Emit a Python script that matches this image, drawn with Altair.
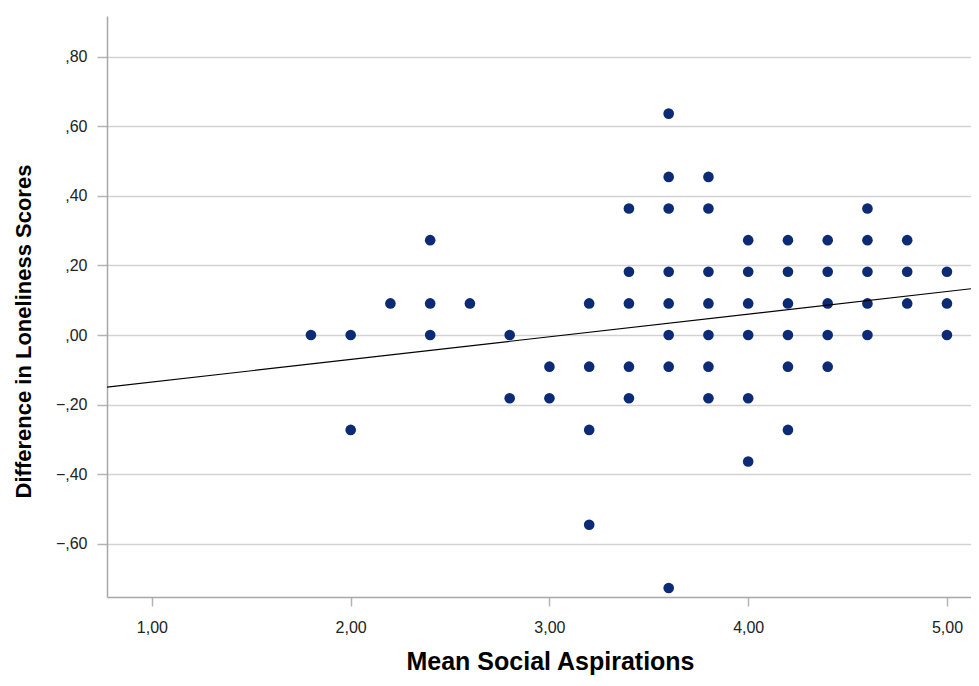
import altair as alt
import pandas as pd

# Scatter points: Mean Social Aspirations (x) vs Difference in Loneliness Scores (y)
x_vals = [
    1.8,
    2.0, 2.0,
    2.2,
    2.4, 2.4, 2.4,
    2.6,
    2.8, 2.8,
    3.0, 3.0,
    3.2, 3.2, 3.2, 3.2,
    3.4, 3.4, 3.4, 3.4, 3.4,
    3.6, 3.6, 3.6, 3.6, 3.6, 3.6, 3.6, 3.6,
    3.8, 3.8, 3.8, 3.8, 3.8, 3.8, 3.8,
    4.0, 4.0, 4.0, 4.0, 4.0, 4.0,
    4.2, 4.2, 4.2, 4.2, 4.2, 4.2,
    4.4, 4.4, 4.4, 4.4, 4.4,
    4.6, 4.6, 4.6, 4.6, 4.6,
    4.8, 4.8, 4.8,
    5.0, 5.0, 5.0,
]
y_vals = [
    0.0,
    0.0, -0.2727,
    0.0909,
    0.2727, 0.0909, 0.0,
    0.0909,
    0.0, -0.1818,
    -0.0909, -0.1818,
    0.0909, -0.0909, -0.2727, -0.5455,
    0.3636, 0.1818, 0.0909, -0.0909, -0.1818,
    0.6364, 0.4545, 0.3636, 0.1818, 0.0909, 0.0, -0.0909, -0.7273,
    0.4545, 0.3636, 0.1818, 0.0909, 0.0, -0.0909, -0.1818,
    0.2727, 0.1818, 0.0909, 0.0, -0.1818, -0.3636,
    0.2727, 0.1818, 0.0909, 0.0, -0.0909, -0.2727,
    0.2727, 0.1818, 0.0909, 0.0, -0.0909,
    0.3636, 0.2727, 0.1818, 0.0909, 0.0,
    0.2727, 0.1818, 0.0909,
    0.1818, 0.0909, 0.0,
]

# Fit line across the axis range
fit_x = [0.774, 5.121]
fit_y = [-0.150, 0.133]

x_ticks = [1, 2, 3, 4, 5]
y_ticks = [-0.6, -0.4, -0.2, 0.0, 0.2, 0.4, 0.6, 0.8]

pts = pd.DataFrame({"x": x_vals, "y": y_vals})
fit = pd.DataFrame({"x": fit_x, "y": fit_y})

FONT = "Liberation Sans"

xscale = alt.Scale(domain=[0.774, 5.121], nice=False, zero=False)
yscale = alt.Scale(domain=[-0.753, 0.917], nice=False, zero=False)

xaxis = alt.Axis(
    title="Mean Social Aspirations",
    values=x_ticks,
    labelExpr="replace(format(datum.value, '.2f'), '.', ',')",
    grid=False,
    tickSize=9,
    tickWidth=1.5,
    tickColor="#b4b4b4",
    domainColor="#a8a8a8",
    domainWidth=1.5,
    labelPadding=13,
    labelFont=FONT,
    labelFontSize=16,
    labelColor="#222222",
    titleFont=FONT,
    titleFontSize=25,
    titleFontWeight="bold",
    titleColor="#000000",
    titleX=443,
    titleY=72,
    titleAlign="center",
    titleBaseline="alphabetic",
)

yaxis = alt.Axis(
    title="Difference in Loneliness Scores",
    values=y_ticks,
    labelExpr="replace(replace(format(datum.value, '.2f'), '0.', ','), '.', ',')",
    grid=True,
    gridColor="#d2d2d2",
    gridWidth=1.5,
    tickSize=10,
    tickWidth=1.5,
    tickColor="#b4b4b4",
    domainColor="#a8a8a8",
    domainWidth=1.5,
    labelPadding=10,
    labelFont=FONT,
    labelFontSize=16,
    labelColor="#222222",
    titleFont=FONT,
    titleFontSize=22,
    titleFontWeight="bold",
    titleColor="#000000",
    titleAngle=270,
    titleX=-84,
    titleY=315,
    titleAlign="center",
    titleBaseline="middle",
)

points = alt.Chart(pts).mark_circle(size=113, color="#0c2b74", opacity=1).encode(
    x=alt.X("x:Q", scale=xscale, axis=xaxis),
    y=alt.Y("y:Q", scale=yscale, axis=yaxis),
)

line = alt.Chart(fit).mark_line(color="#000000", strokeWidth=1.2, clip=True).encode(
    x=alt.X("x:Q", scale=xscale),
    y=alt.Y("y:Q", scale=yscale),
)

chart = (
    alt.layer(points, line)
    .properties(
        width=864,
        height=581,
        autosize=alt.AutoSizeParams(type="none"),
        padding={"left": 99, "top": 8, "right": 0, "bottom": 81},
        background="white",
    )
    .configure_view(stroke=None)
)

chart.save("out.html", embed_options={"renderer": "svg", "actions": False})
